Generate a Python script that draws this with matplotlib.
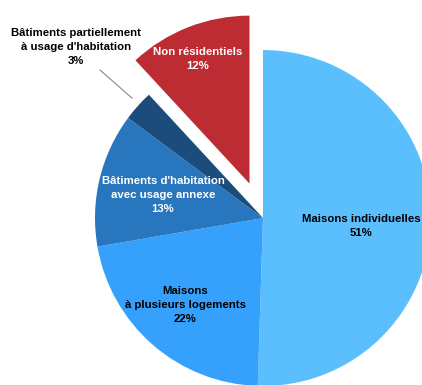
import matplotlib
matplotlib.use("Agg")
import matplotlib.pyplot as plt

plt.rcParams['font.family'] = ['Liberation Sans', 'DejaVu Sans']

# parts of the building stock, clockwise from the top
labels = ["Maisons individuelles", "Maisons\nà plusieurs logements",
          "Bâtiments d'habitation\navec usage annexe",
          "Bâtiments partiellement\nà usage d'habitation", "Non résidentiels"]
shares = [51, 22, 13, 3, 12]
colors = ["#5bbffe", "#36a0fd", "#2876bd", "#1b4c7c", "#bd2b33"]
text_colors = ["black", "black", "white", "black", "white"]
explode = [0, 0, 0, 0, 0.22]

fig = plt.figure(figsize=(4.22, 3.85), dpi=100)
ax = fig.add_axes([0, 0, 1, 1])
ax.pie(shares, colors=colors, explode=explode, startangle=90,
       counterclock=False, radius=1, wedgeprops=dict(linewidth=0))

# label spots (pie centre = 0,0, radius = 1)
spots = [(0.583, -0.045), (-0.464, -0.518), (-0.595, 0.137),
         (-1.113, 1.018), (-0.39, 0.945)]
for lab, val, (x, y), c in zip(labels, shares, spots, text_colors):
    ax.text(x, y, f"{lab}\n{val}%", ha="center", va="center", color=c,
            fontsize=8.2, fontweight="bold", linespacing=1.5)

# leader line for the small slice
ax.plot([-0.970, -0.780], [0.881, 0.714], color="#888888", lw=0.8)

ax.set_xlim(-1.565, 0.946)
ax.set_ylim(-0.994, 1.298)
ax.set_aspect("equal")
ax.axis("off")

fig.savefig("out.png", dpi=100)
